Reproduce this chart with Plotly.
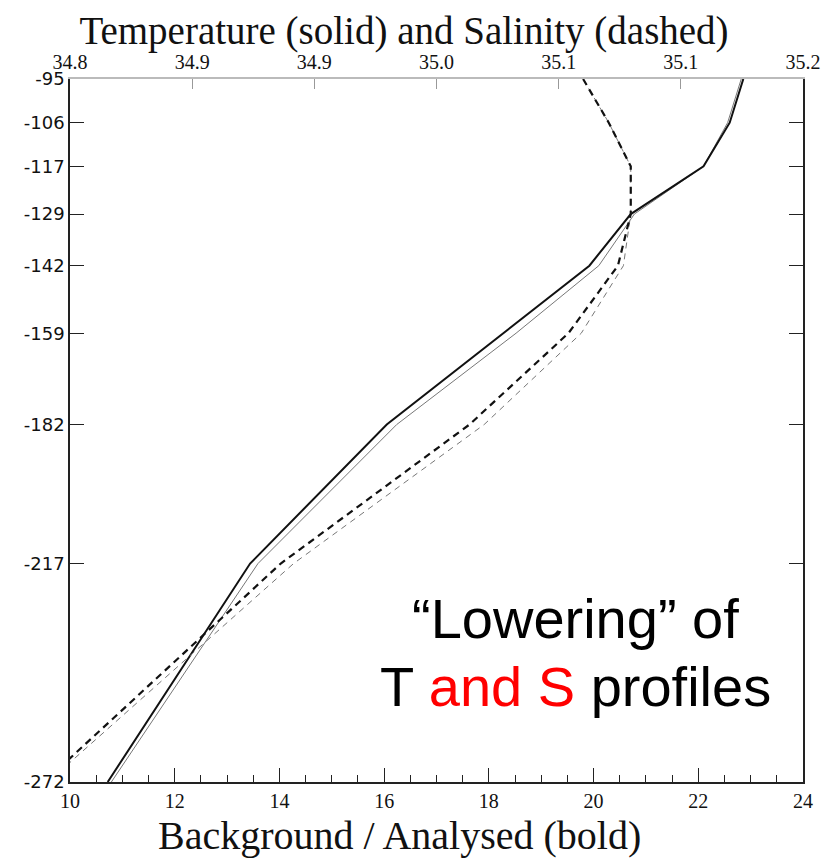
import plotly.graph_objects as go

# model levels (m, negative downward)
depth = [-95, -106, -117, -129, -142, -159, -182, -217, -272]
depth_text = ["-95", "-106", "-117", "-129", "-142", "-159", "-182", "-217", "-272"]

# temperature (bottom axis, degC)
temp_analysed = [22.86, 22.60, 22.10, 20.71, 19.92, 18.27, 16.05, 13.44, 10.72]
temp_background = [22.82, 22.56, 22.10, 20.78, 20.10, 18.52, 16.24, 13.59, 10.79]

# salinity (top axis, psu)
sal_analysed = [35.080, 35.094, 35.106, 35.106, 35.099, 35.072, 35.018, 34.915, 34.786]
sal_background = [35.080, 35.094, 35.106, 35.106, 35.102, 35.079, 35.026, 34.922, 34.788]

sal_ticks = [34.8, 34.8667, 34.9333, 35.0, 35.0667, 35.1333, 35.2]
sal_tick_text = ["34.8", "34.9", "34.9", "35.0", "35.1", "35.1", "35.2"]

SERIF = "Liberation Serif"
DARK = "#222222"

fig = go.Figure()

# salinity (dashed) on the top axis
fig.add_trace(go.Scatter(x=sal_background, y=depth, xaxis="x2", mode="lines",
                         line=dict(color="#777777", width=1, dash="6px,5px"), name="S background"))
fig.add_trace(go.Scatter(x=sal_analysed, y=depth, xaxis="x2", mode="lines",
                         line=dict(color="#111111", width=2.2, dash="7px,5px"), name="S analysed"))

# temperature (solid) on the bottom axis
fig.add_trace(go.Scatter(x=temp_background, y=depth, mode="lines",
                         line=dict(color="#777777", width=1), name="T background"))
fig.add_trace(go.Scatter(x=temp_analysed, y=depth, mode="lines",
                         line=dict(color="#111111", width=2), name="T analysed"))

# page body has an 8px margin, so the figure is 8px smaller than the window
fig.update_layout(
    width=825, height=852,
    paper_bgcolor="white", plot_bgcolor="white",
    showlegend=False,
    margin=dict(l=62, r=16, t=71, b=78),
    title=dict(text="Temperature (solid) and Salinity (dashed)",
               x=0.48, xanchor="center", y=0.974, yanchor="middle",
               font=dict(family=SERIF, size=39, color="#111111")),
    xaxis=dict(range=[10, 24], tickvals=[10, 12, 14, 16, 18, 20, 22, 24],
               ticks="inside", ticklen=14, tickcolor=DARK, tickwidth=1,
               minor=dict(dtick=0.5, ticks="inside", ticklen=7, tickcolor=DARK),
               showline=True, linecolor=DARK, linewidth=1.5,
               showgrid=False, zeroline=False,
               tickfont=dict(family=SERIF, size=20, color="#111111")),
    xaxis2=dict(range=[34.8, 35.2], overlaying="x", side="top", anchor="y",
                tickvals=sal_ticks, ticktext=sal_tick_text,
                ticks="inside", ticklen=10, tickcolor="#999999",
                showline=True, linecolor="#bbbbbb", linewidth=1.5,
                showgrid=False, zeroline=False,
                tickfont=dict(family=SERIF, size=20, color="#111111")),
    yaxis=dict(range=[-272, -95], tickvals=depth, ticktext=depth_text,
               ticks="inside", ticklen=14, tickcolor=DARK,
               showline=True, linecolor=DARK, linewidth=1.5, mirror="ticks",
               showgrid=False, zeroline=False,
               tickfont=dict(family="DejaVu Sans", size=18, color="#111111")),
)

fig.add_annotation(text="Background / Analysed (bold)", xref="paper", yref="paper",
                   x=0.45, y=-0.076, xanchor="center", yanchor="middle", showarrow=False,
                   font=dict(family=SERIF, size=40, color="#111111"))

fig.add_annotation(text="\u201cLowering\u201d of", xref="paper", yref="paper",
                   x=0.69, y=0.232, xanchor="center", yanchor="middle", showarrow=False,
                   font=dict(family="Liberation Sans", size=56, color="black"))
fig.add_annotation(text="T <span style='color:red'>and S</span> profiles", xref="paper", yref="paper",
                   x=0.69, y=0.136, xanchor="center", yanchor="middle", showarrow=False,
                   font=dict(family="Liberation Sans", size=56, color="black"))

fig.write_html("out.html")
